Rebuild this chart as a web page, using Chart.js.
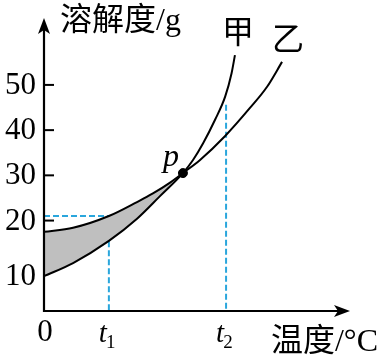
<!DOCTYPE html>
<html>
<head>
<meta charset="utf-8">
<script src="https://cdn.jsdelivr.net/npm/chart.js@4"></script>
<style>
html,body{margin:0;padding:0;background:#fff;}
canvas{display:block;}
</style>
</head>
<body>
<canvas id="c" width="380" height="362"></canvas>
<script>
// ---- data ----
const jiaX = [0, 9.5, 21.2, 30.4, 37.9, 45.4, 48.7, 52.0, 55.9, 59.2, 61.3, 62.4];
const jiaY = [7.7, 10.6, 15.5, 20.4, 25.4, 30.5, 33.4, 37.1, 42.3, 47.4, 52.6, 56.6];
const yiX  = [0, 9.5, 21.2, 30.4, 35.6, 41.2, 45.4, 51.0, 59.2, 67.3, 72.9, 77.8];
const yiY  = [17.5, 18.4, 21.0, 24.1, 26.0, 28.4, 30.5, 33.4, 38.7, 44.9, 49.6, 55.1];
const pointP = [45.4, 30.5];
const t1 = 21.2, t1Value = 21.0;
const t2 = 59.5, t2Value = 45.6;
const yTickValues = [7.7, 20, 30, 40, 50];
const yTickLabels = ['10', '20', '30', '40', '50'];
const yTickMarks  = [false, true, true, true, true];
const xTickValues = [0, t1, t2];
const xTickLabels = ['0', 't1', 't2'];
const yTitle = '溶解度/g';
const xTitle = '温度/°C';
const seriesNames = ['甲', '乙'];

const toPts = (xs, ys) => xs.map((x, i) => ({x: x, y: ys[i]}));
const BLUE = '#2aa6dc';

const axesPlugin = {
  id: 'axesPlugin',
  afterDatasetsDraw(chart) {
    const ctx = chart.ctx;
    const xs = chart.scales.x, ys = chart.scales.y;
    const ox = xs.getPixelForValue(0), oy = ys.getPixelForValue(0);
    const topY = chart.chartArea.top, rightX = chart.chartArea.right;
    ctx.save();
    ctx.strokeStyle = '#000';
    ctx.fillStyle = '#000';
    ctx.lineWidth = 2.2;
    // axes
    ctx.beginPath();
    ctx.moveTo(ox, oy + 1);
    ctx.lineTo(ox, topY + 10);
    ctx.moveTo(ox - 1, oy);
    ctx.lineTo(rightX - 10, oy);
    ctx.stroke();
    // arrows
    ctx.beginPath();
    ctx.moveTo(ox, topY);
    ctx.lineTo(ox - 6, topY + 16);
    ctx.lineTo(ox, topY + 12);
    ctx.lineTo(ox + 6, topY + 16);
    ctx.closePath();
    ctx.fill();
    ctx.beginPath();
    ctx.moveTo(rightX, oy);
    ctx.lineTo(rightX - 16, oy - 6);
    ctx.lineTo(rightX - 12, oy);
    ctx.lineTo(rightX - 16, oy + 6);
    ctx.closePath();
    ctx.fill();
    // y ticks
    ctx.lineWidth = 2;
    ctx.font = '31px "Liberation Serif"';
    ctx.textAlign = 'right';
    ctx.textBaseline = 'middle';
    yTickValues.forEach((v, i) => {
      const py = ys.getPixelForValue(v);
      if (yTickMarks[i]) {
        ctx.beginPath();
        ctx.moveTo(ox, py);
        ctx.lineTo(ox + 10, py);
        ctx.stroke();
      }
      ctx.fillText(yTickLabels[i], ox - 8, py + 1);
    });
    // x tick labels
    ctx.textBaseline = 'alphabetic';
    xTickValues.forEach((v, i) => {
      const px = xs.getPixelForValue(v);
      const lab = xTickLabels[i];
      if (lab.length === 1) {
        ctx.font = '31px "Liberation Serif"';
        ctx.textAlign = 'center';
        ctx.fillText(lab, px + 1, oy + 30);
      } else {
        ctx.font = 'italic 29px "Liberation Serif"';
        ctx.textAlign = 'left';
        const w = ctx.measureText(lab[0]).width;
        ctx.fillText(lab[0], px - 10, oy + 31);
        ctx.font = '19px "Liberation Serif"';
        ctx.fillText(lab.slice(1), px - 10 + w - 1, oy + 37);
      }
    });
    // titles
    ctx.font = '32px "Liberation Serif", "Noto Sans CJK SC"';
    ctx.textAlign = 'left';
    ctx.textBaseline = 'middle';
    ctx.fillText(yTitle, ox + 16, topY + 4);
    ctx.textAlign = 'right';
    ctx.fillText(xTitle, 378, oy + 32);
    // series names near ends of curves
    ctx.textAlign = 'center';
    const jEnd = xs.getPixelForValue(jiaX[jiaX.length - 1]);
    const jTop = ys.getPixelForValue(jiaY[jiaY.length - 1]);
    ctx.font = '32px "Noto Sans CJK SC"';
    ctx.fillText(seriesNames[0], jEnd + 3, jTop - 24);
    const yEnd = xs.getPixelForValue(yiX[yiX.length - 1]);
    const yTop = ys.getPixelForValue(yiY[yiY.length - 1]);
    ctx.fillText(seriesNames[1], yEnd + 6, yTop - 24);
    // point label
    ctx.font = 'italic 32px "Liberation Serif"';
    ctx.textAlign = 'right';
    ctx.textBaseline = 'alphabetic';
    ctx.fillText('p', xs.getPixelForValue(pointP[0]) - 4, ys.getPixelForValue(pointP[1]) - 7);
    ctx.restore();
  }
};

new Chart(document.getElementById('c'), {
  type: 'scatter',
  data: {
    datasets: [
      {
        label: seriesNames[0],
        data: toPts(jiaX, jiaY),
        showLine: true,
        borderColor: '#000',
        borderWidth: 2,
        pointRadius: 0,
        cubicInterpolationMode: 'monotone',
        fill: false
      },
      {
        label: seriesNames[1],
        data: toPts(yiX, yiY),
        showLine: true,
        borderColor: '#000',
        borderWidth: 2,
        pointRadius: 0,
        cubicInterpolationMode: 'monotone',
        fill: {target: 0, above: '#bfbfbf', below: 'rgba(0,0,0,0)'}
      },
      {
        label: 'guide1',
        data: [{x: 0, y: t1Value}, {x: t1, y: t1Value}, {x: t1, y: 0}],
        showLine: true,
        borderColor: BLUE,
        borderWidth: 2,
        borderDash: [6, 3],
        pointRadius: 0,
        tension: 0,
        fill: false
      },
      {
        label: 'guide2',
        data: [{x: t2, y: t2Value}, {x: t2, y: 0}],
        showLine: true,
        borderColor: BLUE,
        borderWidth: 2,
        borderDash: [6, 3],
        pointRadius: 0,
        tension: 0,
        fill: false
      },
      {
        label: 'p',
        data: [{x: pointP[0], y: pointP[1]}],
        showLine: false,
        pointRadius: 4.5,
        backgroundColor: '#000',
        borderColor: '#000'
      }
    ]
  },
  options: {
    responsive: false,
    animation: false,
    devicePixelRatio: 1,
    layout: {padding: {left: 44, top: 18, right: 30, bottom: 51}},
    plugins: {legend: {display: false}, tooltip: {enabled: false}},
    scales: {
      x: {type: 'linear', min: 0, max: 100, display: false},
      y: {type: 'linear', min: 0, max: 64.8, display: false}
    }
  },
  plugins: [axesPlugin]
});
</script>
</body>
</html>
